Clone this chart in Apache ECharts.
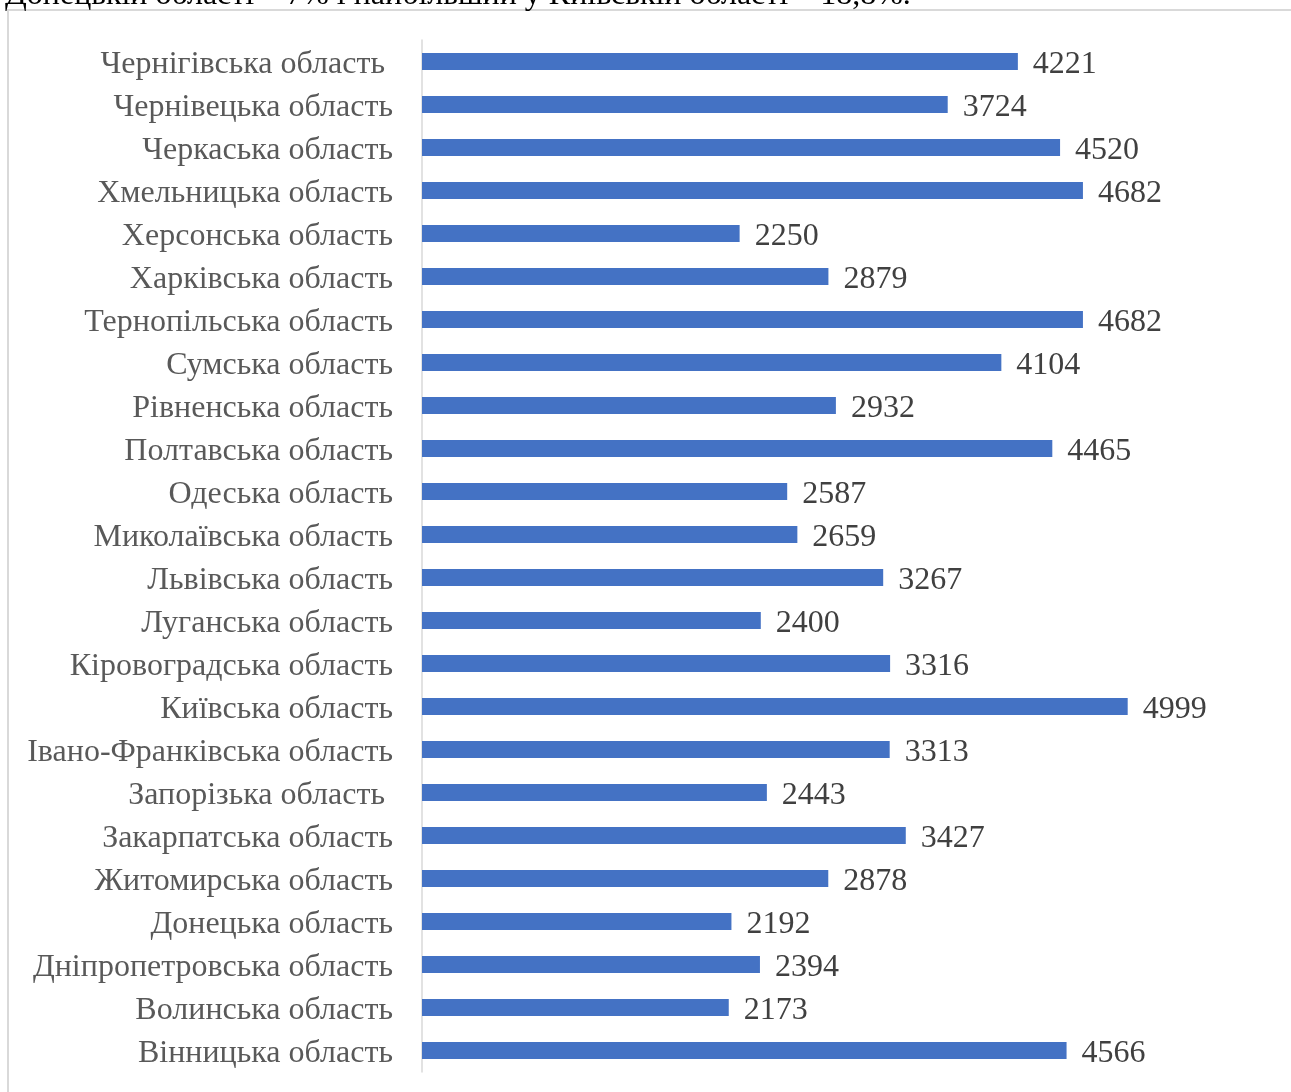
<!DOCTYPE html>
<html>
<head>
<meta charset="utf-8">
<script src="https://cdn.jsdelivr.net/npm/echarts@6/dist/echarts.min.js"></script>
<style>
  html, body { margin: 0; padding: 0; background: #fff; }
  #chart { width: 1291px; height: 1092px; }
</style>
</head>
<body>
<div id="chart"></div>
<script>
// regions, bottom to top (as ECharts draws a category y axis)
let regions = [
    'Вінницька область', 'Волинська область', 'Дніпропетровська область', 'Донецька область',
    'Житомирська область', 'Закарпатська область', 'Запорізька область ', 'Івано-Франківська область',
    'Київська область', 'Кіровоградська область', 'Луганська область', 'Львівська область',
    'Миколаївська область', 'Одеська область', 'Полтавська область', 'Рівненська область',
    'Сумська область', 'Тернопільська область', 'Харківська область', 'Херсонська область',
    'Хмельницька область', 'Черкаська область', 'Чернівецька область', 'Чернігівська область '
]
let values = [
    4566, 2173, 2394, 2192,
    2878, 3427, 2443, 3313,
    4999, 3316, 2400, 3267,
    2659, 2587, 4465, 2932,
    4104, 4682, 2879, 2250,
    4682, 4520, 3724, 4221
]
let caption = 'Донецькій області – 7% і найбільший у Київській області – 18,8%.'

let chart = echarts.init(document.getElementById('chart'))
let serif = '"Liberation Serif", "DejaVu Serif", serif'

option = {
    animation: false,
    grid: {
        left: 422,
        right: 22,
        top: 40,
        bottom: 20
    },
    graphic: [
        {
            type: 'rect',
            shape: { x: 8, y: 10, width: 1300, height: 1100 },
            style: { fill: 'none', stroke: '#d9d9d9', lineWidth: 2 },
            silent: true
        },
        {
            type: 'text',
            left: 5,
            top: -20,
            style: {
                text: caption,
                font: '32px ' + serif,
                fill: '#000'
            },
            silent: true
        }
    ],
    xAxis: {
        type: 'value',
        min: 0,
        max: 6000,
        show: false
    },
    yAxis: {
        type: 'category',
        data: regions,
        axisLine: { show: true, lineStyle: { color: '#d9d9d9', width: 1.5 } },
        axisTick: { show: false },
        axisLabel: {
            margin: 29,
            color: '#595959',
            fontFamily: serif,
            fontSize: 32,
            verticalAlign: 'top',
            lineHeight: 6
        }
    },
    series: [
        {
            type: 'bar',
            data: values,
            barWidth: 17,
            itemStyle: { color: '#4472c4' },
            label: {
                show: true,
                position: 'right',
                distance: 15,
                offset: [0, 3],
                color: '#404040',
                fontFamily: serif,
                fontSize: 32
            }
        }
    ]
}
chart.setOption(option)
</script>
</body>
</html>
